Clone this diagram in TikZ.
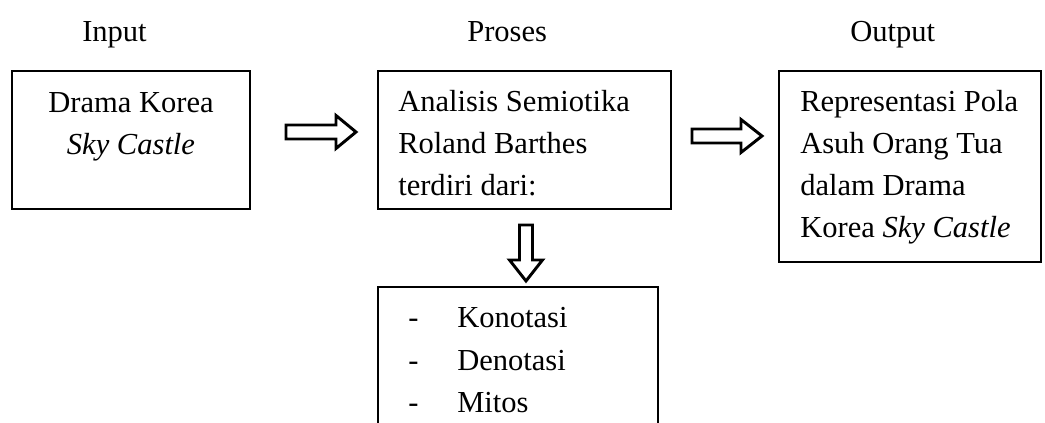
\documentclass[tikz,border=0pt]{standalone}
\usepackage{fontspec}
\setmainfont{Liberation Serif}
\def\pxu{0.75pt}
\begin{document}
\begin{tikzpicture}[x=0.75pt,y=-0.75pt,
  box/.style={draw,line width=1.5pt,rectangle,inner sep=0pt,outer sep=0pt},
  txt/.style={inner sep=0pt,font=\fontsize{22.9}{31.5}\selectfont},
  barrow/.style={draw,line width=2.2pt,line join=miter,fill=white}]
\clip (0,0) rectangle (1045,423);
\fill[white] (0,0) rectangle (1045,423);
% headers
\node[txt,anchor=base west] (hin) at (82,42) {Input};
\node[txt,anchor=base west] (hpr) at (467,42) {Proses};
\node[txt,anchor=base west] (hout) at (850,42) {Output};
% boxes
\node[box,minimum width=238*\pxu,minimum height=138*\pxu] (b1) at (131,140) {};
\node[box,minimum width=293*\pxu,minimum height=138*\pxu] (b2) at (524.5,140) {};
\node[box,minimum width=262*\pxu,minimum height=191*\pxu] (b3) at (910,166.5) {};
\node[box,minimum width=280*\pxu,minimum height=160*\pxu] (b4) at (518,367) {};
% texts (base anchor = last line baseline)
\node[txt,anchor=base,align=center] (t1) at (131,155) {Drama Korea\\\textit{Sky Castle}};
\node[txt,anchor=base west,align=left] (t2) at (398,196) {Analisis Semiotika\\Roland Barthes\\terdiri dari:};
\node[txt,anchor=base west,align=left] (t3) at (800,238) {Representasi Pola\\Asuh Orang Tua\\dalam Drama\\Korea \textit{Sky Castle}};
\node[txt,anchor=base west,align=left] (t4d) at (408,412) {-\\-\\-};
\node[txt,anchor=base west,align=left] (t4) at (457,412) {Konotasi\\Denotasi\\Mitos};
% block arrows
\draw[barrow] (286,125) -- (336,125) -- (336,115.5) -- (356,132) -- (336,148.5) -- (336,139) -- (286,139) -- cycle;
\draw[barrow] (692,129) -- (741,129) -- (741,119.5) -- (762,136) -- (741,152.5) -- (741,143) -- (692,143) -- cycle;
\draw[barrow] (519.5,225) -- (519.5,260) -- (509.5,260) -- (526,281) -- (542.5,260) -- (532.5,260) -- (532.5,225) -- cycle;
\end{tikzpicture}
\end{document}
